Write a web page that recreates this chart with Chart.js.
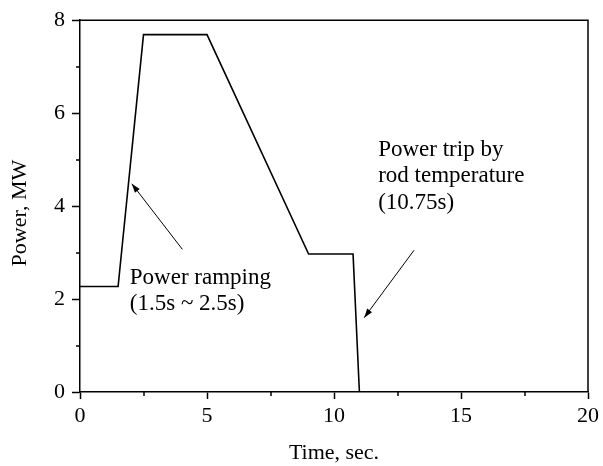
<!DOCTYPE html>
<html>
<head>
<meta charset="utf-8">
<script src="https://cdn.jsdelivr.net/npm/chart.js@4/dist/chart.umd.min.js"></script>
<style>
  body { margin: 0; background: #fff; }
  canvas { display: block; }
</style>
</head>
<body>
<canvas id="power" width="603" height="466"></canvas>
<script>
// power history
var time = [0, 1.5, 2.5, 5, 9, 10.75, 11];
var power = [2.27, 2.27, 7.69, 7.69, 2.97, 2.97, 0];

var xMinorTicks = [2.5, 7.5, 12.5, 17.5];
var yMinorTicks = [1, 3, 5, 7];

// annotation text (left x, baseline y in data units) and arrows (from -> to)
var notes = [
    { x: 1.96, y: 2.33, text: 'Power ramping' },
    { x: 1.96, y: 1.77, text: '(1.5s ~ 2.5s)' },
    { x: 11.74, y: 5.07, text: 'Power trip by' },
    { x: 11.74, y: 4.51, text: 'rod temperature' },
    { x: 11.74, y: 3.94, text: '(10.75s)' }
];
var arrows = [
    { x1: 4.03, y1: 3.07, x2: 2.04, y2: 4.48 },
    { x1: 13.15, y1: 3.05, x2: 11.19, y2: 1.6 }
];

var serif = '"Liberation Serif", "Times New Roman", serif';

var extras = {
    id: 'extras',
    afterDraw: function(chart) {
        var ctx = chart.ctx;
        var a = chart.chartArea;
        var xs = chart.scales.x, ys = chart.scales.y;
        ctx.save();
        ctx.strokeStyle = '#000';
        ctx.lineWidth = 1.5;
        // top and right frame
        ctx.beginPath();
        ctx.moveTo(a.left, a.top);
        ctx.lineTo(a.right, a.top);
        ctx.lineTo(a.right, a.bottom);
        ctx.stroke();
        // minor ticks
        ctx.beginPath();
        xMinorTicks.forEach(function(v) {
            var px = Math.round(xs.getPixelForValue(v));
            ctx.moveTo(px, a.bottom);
            ctx.lineTo(px, a.bottom + 4);
        });
        yMinorTicks.forEach(function(v) {
            var py = Math.round(ys.getPixelForValue(v));
            ctx.moveTo(a.left, py);
            ctx.lineTo(a.left - 4, py);
        });
        ctx.stroke();
        ctx.fillStyle = '#000';
        // y axis title, sits a little below the axis centre in the original
        ctx.save();
        ctx.font = '22px ' + serif;
        ctx.textAlign = 'center';
        ctx.textBaseline = 'alphabetic';
        ctx.translate(26, (a.top + a.bottom) / 2 + 7);
        ctx.rotate(-Math.PI / 2);
        ctx.fillText('Power, MW', 0, 0);
        ctx.restore();
        // notes
        ctx.font = '23px ' + serif;
        ctx.textBaseline = 'alphabetic';
        ctx.textAlign = 'left';
        notes.forEach(function(n) {
            ctx.fillText(n.text, xs.getPixelForValue(n.x), ys.getPixelForValue(n.y));
        });
        // arrows
        ctx.lineWidth = 1;
        arrows.forEach(function(r) {
            var x1 = xs.getPixelForValue(r.x1), y1 = ys.getPixelForValue(r.y1);
            var x2 = xs.getPixelForValue(r.x2), y2 = ys.getPixelForValue(r.y2);
            var ang = Math.atan2(y2 - y1, x2 - x1);
            ctx.beginPath();
            ctx.moveTo(x1, y1);
            ctx.lineTo(x2, y2);
            ctx.stroke();
            ctx.beginPath();
            ctx.moveTo(x2, y2);
            ctx.lineTo(x2 - 9 * Math.cos(ang) + 3 * Math.sin(ang), y2 - 9 * Math.sin(ang) - 3 * Math.cos(ang));
            ctx.lineTo(x2 - 9 * Math.cos(ang) - 3 * Math.sin(ang), y2 - 9 * Math.sin(ang) + 3 * Math.cos(ang));
            ctx.closePath();
            ctx.fill();
        });
        ctx.restore();
    }
};

var points = time.map(function(t, i) { return { x: t, y: power[i] }; });

var ctx = document.getElementById('power').getContext('2d');
var myChart = new Chart(ctx, {
    type: 'line',
    data: {
        datasets: [{
            data: points,
            borderColor: '#000',
            borderWidth: 1.6,
            pointRadius: 0,
            tension: 0,
            fill: false
        }]
    },
    options: {
        responsive: false,
        animation: false,
        layout: { autoPadding: false, padding: { top: 12, right: 12, left: 0, bottom: 0 } },
        plugins: { legend: { display: false }, tooltip: { enabled: false } },
        scales: {
            x: {
                type: 'linear',
                min: 0,
                max: 20,
                afterFit: function(s) { s.height = 74; },
                ticks: { stepSize: 5, color: '#000', padding: 4, maxRotation: 0, font: { family: serif, size: 22 } },
                grid: { drawOnChartArea: false, drawTicks: true, tickLength: 7, tickColor: '#000', tickWidth: 1.5 },
                border: { display: true, color: '#000', width: 1.5 },
                title: { display: true, text: 'Time, sec.', color: '#000', padding: { top: 3, bottom: 0 }, font: { family: serif, size: 22 } }
            },
            y: {
                min: 0,
                max: 8,
                afterFit: function(s) { s.width = 80; },
                ticks: { stepSize: 2, color: '#000', padding: 7, font: { family: serif, size: 22 } },
                grid: { drawOnChartArea: false, drawTicks: true, tickLength: 8, tickColor: '#000', tickWidth: 1.5 },
                border: { display: true, color: '#000', width: 1.5 }
            }
        }
    },
    plugins: [extras]
});
</script>
</body>
</html>
